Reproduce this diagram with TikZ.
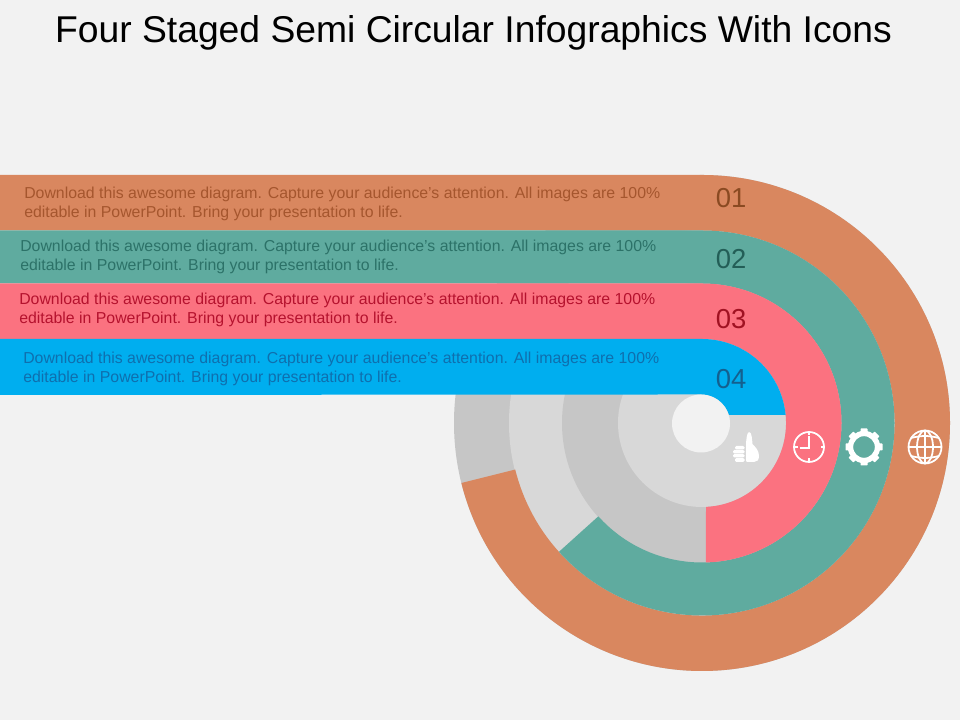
\documentclass[tikz,border=0pt]{standalone}
\usepackage{fontspec}
\setmainfont{Liberation Sans}
\usetikzlibrary{positioning}
\definecolor{pagegrey}{HTML}{F2F2F2}
\definecolor{ringdark}{HTML}{C6C6C6}
\definecolor{ringlight}{HTML}{D8D8D8}
\definecolor{bandorange}{HTML}{D9875F}
\definecolor{bandteal}{HTML}{5FAB9F}
\definecolor{bandred}{HTML}{FB7280}
\definecolor{bandblue}{HTML}{00AEEF}
\definecolor{textorange}{HTML}{A5562E}
\definecolor{textteal}{HTML}{2C7268}
\definecolor{textred}{HTML}{B5122E}
\definecolor{textblue}{HTML}{0F6FAE}
\definecolor{numorange}{HTML}{8A4A22}
\definecolor{numteal}{HTML}{235E57}
\definecolor{numred}{HTML}{A01222}
\definecolor{numblue}{HTML}{14608F}
\tikzset{
    bandtext/.style={anchor=north west, inner sep=0pt, align=left, font=\fontsize{11.27}{13.6}\selectfont},
    bandnum/.style={inner sep=0pt, font=\fontsize{19.5}{20}\selectfont},
    iconline/.style={draw=white, line width=1.25pt}
}
\newcommand{\bandcopy}{Download this awesome diagram. Capture your audience’s attention. All images are 100\%\\editable in PowerPoint. Bring your presentation to life.}

\begin{document}
\begin{tikzpicture}[x=.025cm, y=.025cm]
    \useasboundingbox (0,0) rectangle (960,720);
    \fill[pagegrey] (0,0) rectangle (960,720);
    \node[inner sep=0pt, font=\fontsize{26.5}{28}\selectfont] (title) at (473.5,687.5) {Four Staged Semi Circular Infographics With Icons};

    % grey rings
    \foreach \r/\c in {248/ringdark, 193/ringlight, 140/ringdark, 84/ringlight}
        \fill[\c] (702,297) circle[radius=\r];

    % bands
    \foreach \c/\yt/\yb/\ro/\ri/\e in {bandorange/545/489.5/248/192.5/-166, bandteal/489.5/436.5/192.5/139.5/-138}
        \fill[\c] (0,\yt) -- (702,\yt) arc[start angle=90, end angle=\e, radius=\ro]
            -- ++(\e:\ri-\ro) arc[start angle=\e, end angle=90, radius=\ri] -- (0,\yb) -- cycle;
    \fill[bandred] (0,436.5) -- (702,436.5) arc[start angle=90, end angle=-88.4, radius=139.5]
        -- (706,213.1) arc[start angle=-87.3, end angle=90, radius=84] -- (0,381) -- cycle;
    \fill[bandblue] (0,381) -- (702,381) arc[start angle=90, end angle=5.5, radius=84]
        -- (729,305) arc[start angle=17, end angle=90, radius=29] -- (0,325) -- cycle;
    \fill[pagegrey] (701,296.5) circle[radius=29];

    % texts
    \node[bandtext, text=textorange] (textone) at (24,533.5) {\bandcopy};
    \node[bandtext, text=textteal] (texttwo) at (20,480.5) {\bandcopy};
    \node[bandtext, text=textred] (textthree) at (19,427.5) {\bandcopy};
    \node[bandtext, text=textblue] (textfour) at (23,368.5) {\bandcopy};
    \node[bandnum, text=numorange] (numone) at (731,522) {01};
    \node[bandnum, text=numteal] (numtwo) at (731,461) {02};
    \node[bandnum, text=numred] (numthree) at (731,401) {03};
    \node[bandnum, text=numblue] (numfour) at (731,341) {04};

    % globe
    \begin{scope}[shift={(925,273)}]
        \draw[iconline] (0,0) circle[radius=16.5];
        \draw[iconline] (0,0) ellipse[x radius=8, y radius=16.5];
        \draw[iconline] (0,-16.5) -- (0,16.5);
        \draw[iconline] (-16.5,0) -- (16.5,0);
        \draw[iconline] (-14,9) to[bend left=14] (14,9);
        \draw[iconline] (-14,-9) to[bend right=14] (14,-9);
    \end{scope}

    % gear
    \begin{scope}[shift={(864,273)}]
        \draw[white, line width=3.8pt] (0,0) circle[radius=13.5];
        \foreach \a in {0,45,...,315}
            \fill[white, rotate=\a, rounded corners=.5pt] (-3.5,14) rectangle (3.5,18.5);
    \end{scope}

    % clock
    \begin{scope}[shift={(809,273)}]
        \draw[iconline] (0,0) circle[radius=15];
        \draw[iconline] (0,11) -- (0,-1) -- (-9,-1);
        \foreach \a in {0,90,180,270}
            \draw[iconline, rotate=\a] (15,0) -- (11.5,0);
    \end{scope}

    % thumb
    \fill[white, rounded corners=1pt] (735,270.5) rectangle (744.5,274);
    \fill[white, rounded corners=1pt] (733,266.5) rectangle (744.5,270);
    \fill[white, rounded corners=1pt] (733,262.5) rectangle (744.5,266);
    \fill[white, rounded corners=1pt] (735,258) rectangle (744.5,262);
    \fill[white] (746,259) -- (746,274)
        .. controls (746,280) and (747,288) .. (749,288)
        .. controls (752,288) and (752,280) .. (752.5,276)
        .. controls (755,273) and (759,270) .. (759,264)
        .. controls (759,260) and (757,258) .. (754,258)
        -- (747,258) -- cycle;
\end{tikzpicture}
\end{document}
